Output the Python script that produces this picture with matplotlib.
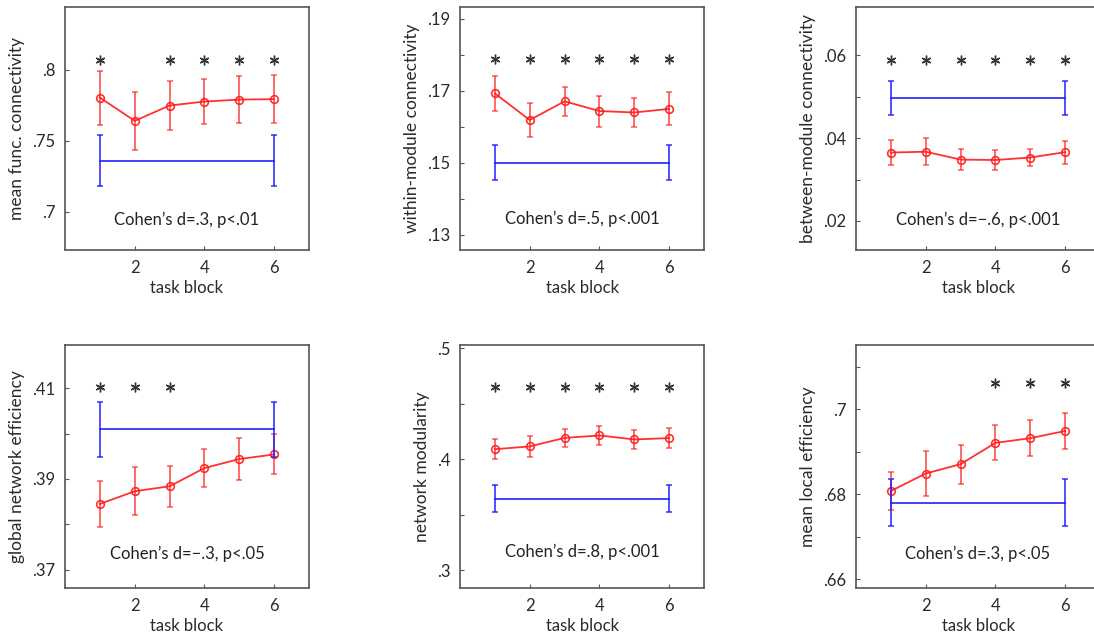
import matplotlib
matplotlib.use("Agg")
import matplotlib.pyplot as plt

plt.rcParams['font.family'] = ['Lato', 'DejaVu Sans']

blocks = [1, 2, 3, 4, 5, 6]

# panel 1: mean functional connectivity
mfc_mean = [0.7805, 0.7641, 0.7749, 0.7777, 0.7791, 0.7794]
mfc_err = [0.019, 0.0205, 0.0175, 0.016, 0.0167, 0.0167]
mfc_rest, mfc_rest_err = 0.7361, 0.018
mfc_stars = [1, 3, 4, 5, 6]

# panel 2: within-module connectivity
wmc_mean = [0.1693, 0.1619, 0.1671, 0.1644, 0.1640, 0.1650]
wmc_err = [0.0048, 0.0047, 0.0040, 0.0043, 0.0040, 0.0046]
wmc_rest, wmc_rest_err = 0.1501, 0.0048
wmc_stars = [1, 2, 3, 4, 5, 6]

# panel 3: between-module connectivity
bmc_mean = [0.0365, 0.0367, 0.0348, 0.0347, 0.0353, 0.0366]
bmc_err = [0.0031, 0.0032, 0.0026, 0.0025, 0.0021, 0.0028]
bmc_rest, bmc_rest_err = 0.0496, 0.0041
bmc_stars = [1, 2, 3, 4, 5, 6]

# panel 4: global network efficiency
gne_mean = [0.3845, 0.3873, 0.3884, 0.3924, 0.3944, 0.3954]
gne_err = [0.0051, 0.0053, 0.0045, 0.0042, 0.0046, 0.0044]
gne_rest, gne_rest_err = 0.4009, 0.0061
gne_stars = [1, 2, 3]

# panel 5: network modularity
nm_mean = [0.4090, 0.4115, 0.4192, 0.4214, 0.4178, 0.4190]
nm_err = [0.0092, 0.0092, 0.0080, 0.0089, 0.0088, 0.0089]
nm_rest, nm_rest_err = 0.3645, 0.0120
nm_stars = [1, 2, 3, 4, 5, 6]

# panel 6: mean local efficiency
mle_mean = [0.6808, 0.6849, 0.6871, 0.6921, 0.6932, 0.6949]
mle_err = [0.0045, 0.0052, 0.0046, 0.0041, 0.0042, 0.0042]
mle_rest, mle_rest_err = 0.6780, 0.0055
mle_stars = [4, 5, 6]

ylabels = ["mean func. connectivity", "within-module connectivity",
           "between-module connectivity", "global network efficiency",
           "network modularity", "mean local efficiency"]
stats_text = ["Cohen\u2019s d=.3, p<.01", "Cohen\u2019s d=.5, p<.001",
              "Cohen\u2019s d=\u2212.6, p<.001", "Cohen\u2019s d=\u2212.3, p<.05",
              "Cohen\u2019s d=.8, p<.001", "Cohen\u2019s d=.3, p<.05"]
ylims = [(0.673, 0.8444), (0.1258, 0.1933), (0.013, 0.0716),
         (0.366, 0.4195), (0.2838, 0.503), (0.658, 0.7151)]
yticks = [[0.7, 0.75, 0.8], [0.13, 0.14, 0.15, 0.16, 0.17, 0.18, 0.19],
          [0.02, 0.03, 0.04, 0.05, 0.06], [0.37, 0.38, 0.39, 0.40, 0.41],
          [0.3, 0.35, 0.4, 0.45, 0.5], [0.66, 0.67, 0.68, 0.69, 0.70, 0.71]]
yticklabels = [[".7", ".75", ".8"], [".13", "", ".15", "", ".17", "", ".19"],
               [".02", "", ".04", "", ".06"], [".37", "", ".39", "", ".41"],
               [".3", "", ".4", "", ".5"], [".66", "", ".68", "", ".7", ""]]
star_y = [0.807, 0.1789, 0.0588, 0.4102, 0.4647, 0.7061]
text_y = [0.6944, 0.1344, 0.0202, 0.3736, 0.3163, 0.666]

means = [mfc_mean, wmc_mean, bmc_mean, gne_mean, nm_mean, mle_mean]
errs = [mfc_err, wmc_err, bmc_err, gne_err, nm_err, mle_err]
rests = [(mfc_rest, mfc_rest_err), (wmc_rest, wmc_rest_err), (bmc_rest, bmc_rest_err),
         (gne_rest, gne_rest_err), (nm_rest, nm_rest_err), (mle_rest, mle_rest_err)]
stars = [mfc_stars, wmc_stars, bmc_stars, gne_stars, nm_stars, mle_stars]

W, H = 1094, 643
fig = plt.figure(figsize=(W / 100, H / 100), dpi=100)

lefts = [65, 460, 856]
tops = [7, 345]
aw, ah = 244, 243
spine_c = '#555555'
text_c = '#2a2a2a'
red = '#ff1a1a'
blue = '#2020ff'

for i in range(6):
    r, c = divmod(i, 3)
    ax = fig.add_axes([lefts[c] / W, (H - tops[r] - ah) / H, aw / W, ah / H])
    ax.errorbar(blocks, means[i], yerr=errs[i], fmt='none', ecolor=red,
                elinewidth=1.4, capsize=2.5, capthick=1.2, alpha=0.65)
    ax.plot(blocks, means[i], color=red, lw=1.3, marker='o', ms=5.5,
            mfc='none', mec=red, mew=1.2, alpha=0.9)
    rv, re = rests[i]
    ax.errorbar([blocks[0], blocks[-1]], [rv, rv], yerr=[re, re], color=blue,
                ecolor=blue, elinewidth=1.3, capsize=2.5, capthick=1.2,
                lw=1.4, alpha=0.85)
    sx = [s for s in stars[i]]
    ax.plot(sx, [star_y[i]] * len(sx), ls='none', marker=(6, 2, 0), ms=7,
            mew=1.0, color='#333333')
    ax.text(3.5, text_y[i], stats_text[i], ha='center', va='center',
            fontsize=12, color='#222222')
    ax.set_xlim(0, 7)
    ax.set_ylim(*ylims[i])
    ax.set_xticks([2, 4, 6])
    ax.set_xticklabels(["2", "4", "6"])
    ax.set_yticks(yticks[i])
    ax.set_yticklabels(yticklabels[i])
    ax.tick_params(direction='in', length=3, width=0.8, color=spine_c,
                   labelsize=12, labelcolor=text_c, pad=7)
    ax.set_xlabel("task block", fontsize=12, color=text_c, labelpad=3)
    ax.set_ylabel(ylabels[i], fontsize=12.5, color=text_c, labelpad=5)
    for sp in ax.spines.values():
        sp.set_color(spine_c)
        sp.set_linewidth(1.2)

fig.savefig("out.png", dpi=100)
